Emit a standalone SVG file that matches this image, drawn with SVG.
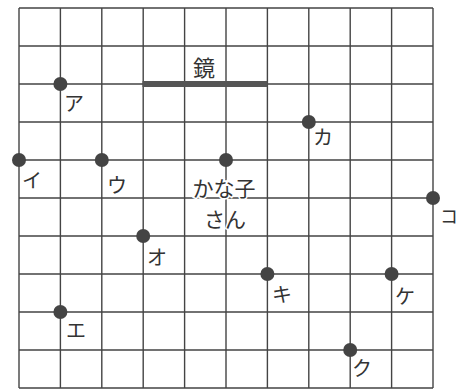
<svg xmlns="http://www.w3.org/2000/svg" width="458" height="389" viewBox="0 0 458 389">
<style>
.g{stroke:#444;stroke-width:1.4;fill:none}
.d{fill:#444}
.t{font-family:"Noto Sans CJK JP","Noto Sans",sans-serif;fill:#333;font-size:20px;text-anchor:middle;paint-order:stroke;stroke:#fff;stroke-width:3px}
</style>
<rect width="458" height="389" fill="#fff"/>
<g id="grid" class="g">
<path d="M19 8V388M60.4 8V388M101.8 8V388M143.2 8V388M184.6 8V388M226 8V388M267.4 8V388M308.8 8V388M350.2 8V388M391.6 8V388M433 8V388"/>
<path d="M19 8H433M19 46H433M19 84H433M19 122H433M19 160H433M19 198H433M19 236H433M19 274H433M19 312H433M19 350H433M19 388H433"/>
</g>
<g id="mirror">
<rect x="142.5" y="81" width="125" height="6" fill="#555"/>
<text class="t" x="204" y="76" style="font-size:22px">鏡</text>
</g>
<g id="a"><circle class="d" cx="60.4" cy="84" r="7"/><text class="t" x="74" y="111">ア</text></g>
<g id="i"><circle class="d" cx="19" cy="160" r="7"/><text class="t" x="32" y="188">イ</text></g>
<g id="u"><circle class="d" cx="101.8" cy="160" r="7"/><text class="t" x="117" y="193">ウ</text></g>
<g id="kanako"><circle class="d" cx="226" cy="160" r="7"/><text class="t" x="224" y="196" style="font-size:21px">かな子</text><text class="t" x="225" y="227" style="font-size:21px">さん</text></g>
<g id="ka"><circle class="d" cx="308.8" cy="122" r="7"/><text class="t" x="323" y="145">カ</text></g>
<g id="ko"><circle class="d" cx="433" cy="198" r="7"/><text class="t" x="440" y="223" style="text-anchor:start;font-size:18px">コ</text></g>
<g id="o"><circle class="d" cx="143.2" cy="236" r="7"/><text class="t" x="157" y="265">オ</text></g>
<g id="ki"><circle class="d" cx="267.4" cy="274" r="7"/><text class="t" x="282" y="302">キ</text></g>
<g id="ke"><circle class="d" cx="391.6" cy="274" r="7"/><text class="t" x="405" y="304">ケ</text></g>
<g id="e"><circle class="d" cx="60.4" cy="312" r="7"/><text class="t" x="76" y="338">エ</text></g>
<g id="ku"><circle class="d" cx="350.2" cy="350" r="7"/><text class="t" x="362" y="376">ク</text></g>
</svg>
